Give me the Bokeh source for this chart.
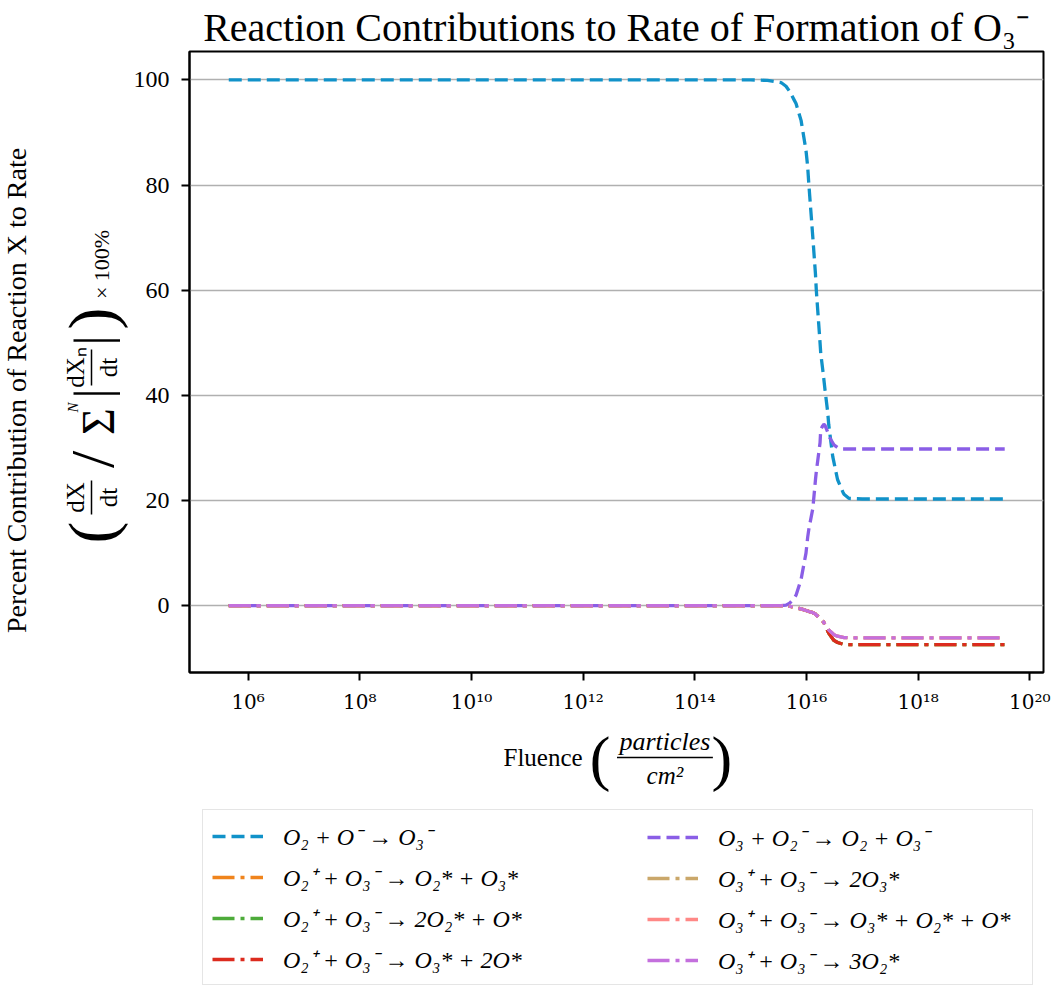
import math
from bokeh.plotting import figure
from bokeh.layouts import row, column
from bokeh.models import (Range1d, FixedTicker, CustomJSTickFormatter,
                          Legend, LegendItem)
from bokeh.core.properties import value
from bokeh.embed import file_html
from bokeh.resources import INLINE

# ---------------- data ----------------
fluence = [4.5e5, 1.0e15, 2.0e15, 3.5e15, 4.3e15, 5.0e15, 6.0e15, 6.5e15, 8.0e15,
           9.8e15, 1.05e16, 1.1e16, 1.3e16, 1.45e16, 1.5e16, 1.75e16, 1.8e16,
           1.95e16, 2.05e16, 2.15e16, 2.4e16, 2.5e16, 2.95e16, 3.1e16, 3.6e16,
           4.5e16, 4.7e16, 5.8e16, 1.0e17, 3.55e19]

r_o2_om = [100, 100, 99.9, 99.5, 98.8, 97.8, 96.2, 95.5, 92.3, 86.6, 83.5, 80.3,
           70, 63, 60, 50, 48, 45, 43, 41, 36.8, 34.5, 28.4, 27.3, 24, 21.6, 21.2,
           20.4, 20.3, 20.3]

r_o3_o2m = [0, 0, 0, 0, 0.1, 0.5, 1.4, 2.0, 5.0, 10.0, 13.0, 14.5, 18.5, 24.0,
            25.5, 31.0, 33.5, 34.2, 34.5, 34.3, 33.0, 32.3, 31.0, 30.6, 30.1, 29.8,
            29.8, 29.8, 29.8, 29.8]

r_o2p_group = [0, 0, 0, 0, 0, -0.1, -0.3, -0.4, -0.6, -0.9, -1.0, -1.1, -1.3, -1.6,
               -1.8, -2.3, -2.5, -2.9, -3.2, -3.7, -4.8, -5.2, -6.3, -6.6, -7.0,
               -7.3, -7.35, -7.4, -7.4, -7.4]

r_o3p_group = [0, 0, 0, 0, 0, -0.1, -0.3, -0.4, -0.6, -0.9, -1.0, -1.1, -1.3, -1.6,
               -1.8, -2.3, -2.5, -2.9, -3.2, -3.6, -4.3, -4.6, -5.3, -5.5, -5.8,
               -6.0, -6.05, -6.1, -6.1, -6.1]

reactions = [
    "O₂ + O⁻ → O₃⁻",
    "O₂⁺ + O₃⁻ → O₂* + O₃*",
    "O₂⁺ + O₃⁻ → 2O₂* + O*",
    "O₂⁺ + O₃⁻ → O₃* + 2O*",
    "O₃ + O₂⁻ → O₂ + O₃⁻",
    "O₃⁺ + O₃⁻ → 2O₃*",
    "O₃⁺ + O₃⁻ → O₃* + O₂* + O*",
    "O₃⁺ + O₃⁻ → 3O₂*",
]
series_values = [r_o2_om, r_o2p_group, r_o2p_group, r_o2p_group,
                 r_o3_o2m, r_o3p_group, r_o3p_group, r_o3p_group]
colors = ["#1192c9", "#f0841c", "#4dab3a", "#dc2b1e",
          "#8a5ee6", "#caa76a", "#ff8886", "#c470dd"]
dashes = ["13 6", "22 6 4 6", "22 6 4 6", "22 6 4 6",
          "13 6", "22 6 4 6", "22 6 4 6", "22 6 4 6"]

x_ticks = [1e6, 1e8, 1e10, 1e12, 1e14, 1e16, 1e18, 1e20]
x_tick_labels = ["10⁶", "10⁸", "10¹⁰", "10¹²", "10¹⁴", "10¹⁶", "10¹⁸", "10²⁰"]
y_ticks = [0, 20, 40, 60, 80, 100]

title_text = "Reaction Contributions to Rate of Formation of O₃⁻"
ylabel_text = "Percent Contribution of Reaction X to Rate"
xlabel_word = "Fluence"
xlabel_num = "particles"
xlabel_den = "cm²"

# ---------------- layout constants (canvas pixels) ----------------
W, H = 1057, 988
LW = 130            # width of the left strip holding the y label
MH = 716            # height of the main figure
FL, FR, FT, FB = 188, 1043, 50, 674
SERIF = "Liberation Serif"
R = math.pi / 2


def blank_fig(width, height, x0, x1, y0, y1, bl=0, br=0):
    f = figure(width=width, height=height, output_backend="svg",
               toolbar_location=None, x_range=Range1d(x0, x1),
               y_range=Range1d(y0, y1), min_border=0,
               min_border_left=bl, min_border_right=br,
               min_border_top=0, min_border_bottom=0,
               x_axis_location=None, y_axis_location=None)
    f.xgrid.visible = False
    f.ygrid.visible = False
    f.outline_line_color = None
    f.background_fill_color = "white"
    f.border_fill_color = "white"
    return f


def put(f, text, cx, cy, size, angle=0.0, style="normal", font=SERIF):
    f.text(x=[cx], y=[H - cy], text=[text], angle=angle,
           text_font=value(font), text_font_size=value(f"{size}px"),
           text_font_style=style, text_align="center",
           text_baseline="middle", text_color="black")


# ---------------- main figure ----------------
p = figure(width=W - LW, height=MH, x_axis_type="log", output_backend="svg",
           toolbar_location=None,
           x_range=Range1d(10 ** 4.95, 10 ** 20.245),
           y_range=Range1d(-12.7, 105.4),
           min_border_left=FL - LW, min_border_right=W - FR,
           min_border_top=FT, min_border_bottom=MH - FB)

p.title.text = title_text
p.title.text_font = SERIF
p.title.text_font_size = "40px"
p.title.text_font_style = "normal"
p.title.text_color = "black"
p.title.align = "center"
p.title.standoff = 4

p.background_fill_color = "white"
p.border_fill_color = "white"
p.outline_line_color = "black"
p.outline_line_width = 2
p.outline_line_alpha = 1

p.xgrid.visible = False
p.ygrid.grid_line_color = "#b0b0b0"
p.ygrid.grid_line_width = 1.6

for ax in (p.xaxis[0], p.yaxis[0]):
    ax.axis_line_width = 2
    ax.axis_line_color = "black"
    ax.major_tick_line_width = 2
    ax.major_tick_line_color = "black"
    ax.major_tick_out = 8
    ax.major_tick_in = 0
    ax.minor_tick_out = 0
    ax.minor_tick_in = 0
    ax.major_label_text_color = "black"

p.yaxis.major_label_text_font = SERIF
p.yaxis.major_label_text_font_size = "24px"
p.xaxis.major_label_text_font = "DejaVu Serif"
p.xaxis.major_label_text_font_size = "20px"

p.xaxis.ticker = FixedTicker(ticks=x_ticks, minor_ticks=[])
p.xaxis.formatter = CustomJSTickFormatter(
    args=dict(tvals=x_ticks, tlabels=x_tick_labels),
    code="""
    let best = 0, bd = Infinity;
    for (let i = 0; i < tvals.length; i++) {
        const d = Math.abs(Math.log10(tvals[i]) - Math.log10(tick));
        if (d < bd) { bd = d; best = i; }
    }
    return tlabels[best];
    """)
p.xaxis.major_label_standoff = 9
p.yaxis.ticker = FixedTicker(ticks=y_ticks, minor_ticks=[])
p.yaxis.major_label_standoff = 12

for vals, c, d in zip(series_values, colors, dashes):
    p.line(fluence, vals, line_color=c, line_width=3.3, line_dash=d)

# ---------------- left strip: y-axis label ----------------
left = blank_fig(LW, H, 0, LW, 0, H)
put(left, ylabel_text, 16, 390, 28, angle=R)
# ( dX/dt / sum^N |dXn/dt| ) x 100%
put(left, "(", 91, 532, 66, angle=R)
put(left, "dX", 75, 497, 25, angle=R)
put(left, "dt", 108, 497, 25, angle=R)
left.segment(x0=[91], y0=[H - 480], x1=[91], y1=[H - 514],
             line_color="black", line_width=1.5)
put(left, "/", 91, 459, 62, angle=R)
put(left, "Σ", 98, 421, 46, angle=R)
put(left, "N", 72, 407, 15, angle=R, style="italic")
put(left, "|", 91, 393, 50, angle=R)
put(left, "dXₙ", 75, 367, 25, angle=R)
put(left, "dt", 108, 367, 25, angle=R)
left.segment(x0=[91], y0=[H - 349], x1=[91], y1=[H - 385],
             line_color="black", line_width=1.5)
put(left, "|", 91, 340, 50, angle=R)
put(left, ")", 91, 318, 66, angle=R)
put(left, "× 100%", 101, 264, 22, angle=R)

# ---------------- bottom strip: x-axis label + legend ----------------
BH = H - MH
bottom = blank_fig(W - LW, BH, FL, FR, 0, BH, bl=FL - LW, br=W - FR)
put(bottom, xlabel_word, 542, 757, 25)
put(bottom, "(", 599, 757, 62)
put(bottom, xlabel_num, 664, 741, 26, style="italic")
bottom.segment(x0=[616], y0=[H - 757], x1=[712], y1=[H - 757],
               line_color="black", line_width=1.5)
put(bottom, xlabel_den, 664, 775, 25, style="italic")
put(bottom, ")", 721, 757, 62)

# legend keys: the same series drawn in this strip fall far outside its range,
# so only their legend swatches show
keys = [bottom.line(fluence, vals, line_color=c, line_width=3.5, line_dash=d)
        for vals, c, d in zip(series_values, colors, dashes)]

leg_common = dict(label_text_font=SERIF, label_text_font_style="italic",
                  label_text_font_size="24px", label_text_color="black",
                  glyph_width=51, glyph_height=30, label_height=30,
                  label_standoff=20, spacing=8, padding=9,
                  orientation="vertical")
leg1 = Legend(items=[LegendItem(label=reactions[i], renderers=[keys[i]])
                     for i in range(4)],
              location=(201 - FL, H - 985), label_width=740,
              border_line_color="#cccccc", border_line_width=1.5,
              background_fill_color="white", background_fill_alpha=1,
              **leg_common)
leg2 = Legend(items=[LegendItem(label=reactions[i], renderers=[keys[i]])
                     for i in range(4, 8)],
              location=(637 - FL, H - 985), label_width=100,
              border_line_alpha=0, background_fill_alpha=0,
              **leg_common)
bottom.add_layout(leg1, "center")
bottom.add_layout(leg2, "center")

layout = row(left, column(p, bottom))
open("out.html", "w").write(file_html(layout, INLINE))
